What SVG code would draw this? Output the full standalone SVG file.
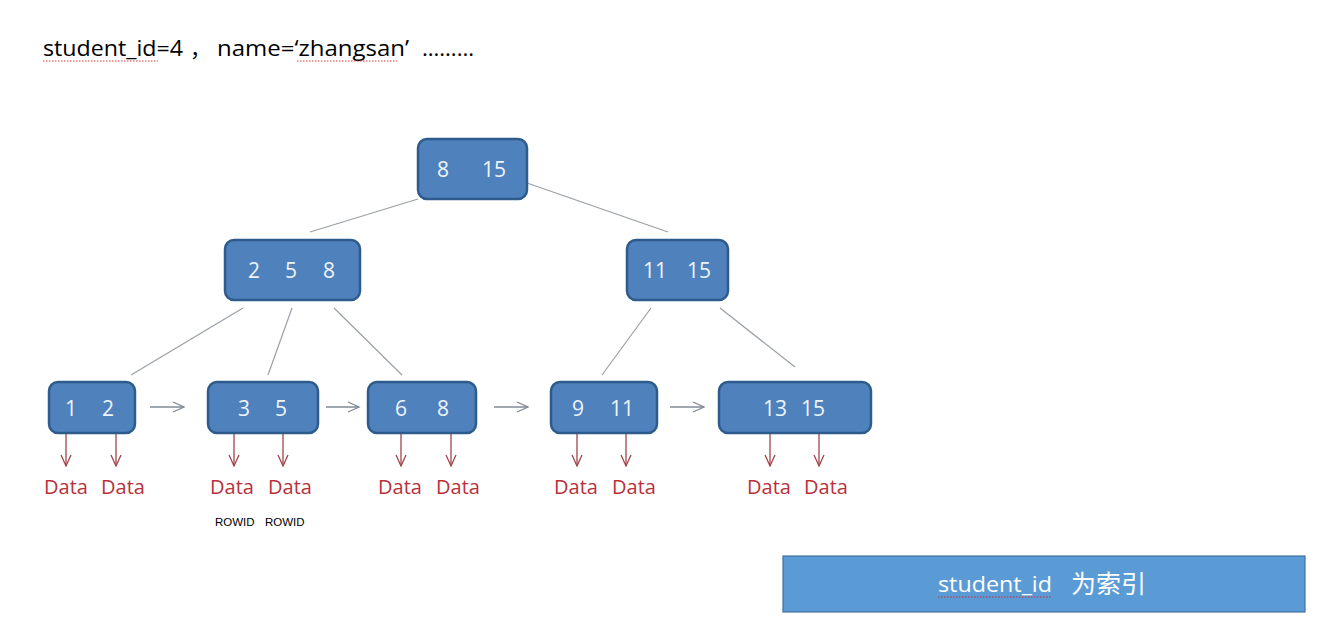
<svg xmlns="http://www.w3.org/2000/svg" width="1336" height="633" viewBox="0 0 1336 633">
<style>
.node rect{fill:#4f81bd;stroke:#2d5b8c;stroke-width:2.5}
.num{font-family:"Open Sans","Liberation Sans",sans-serif;font-size:21px;fill:#eef4fb;text-anchor:middle}
.tree{stroke:#9aa0a6;stroke-width:1.2;fill:none}
.next{stroke:#7f8a96;stroke-width:1.3;fill:none;marker-end:url(#open)}
.ptr{stroke:#a0454a;stroke-width:1.3;fill:none;marker-end:url(#openr)}
.data{font-family:"Open Sans","Liberation Sans",sans-serif;font-size:20px;fill:#b8303a}
.top{font-family:"Open Sans","Liberation Sans","Noto Sans CJK SC",sans-serif;font-size:21px;fill:#000}
.squig{stroke:#e02020;stroke-width:0.9;fill:none;stroke-dasharray:1.5 1.5}
</style>
<defs>
<marker id="open" markerWidth="14" markerHeight="12" refX="12" refY="6" orient="auto" markerUnits="userSpaceOnUse"><path d="M1,1 L12,6 L1,11" fill="none" stroke="#7f8a96" stroke-width="1.3"/></marker>
<marker id="openr" markerWidth="14" markerHeight="12" refX="12" refY="6" orient="auto" markerUnits="userSpaceOnUse"><path d="M1,1 L12,6 L1,11" fill="none" stroke="#a0454a" stroke-width="1.3"/></marker>
</defs>
<rect width="1336" height="633" fill="#ffffff"/>
<g id="header">
<text class="top" x="43" y="56" textLength="140" lengthAdjust="spacingAndGlyphs">student_id=4</text>
<text class="top" x="190" y="56">，</text>
<text class="top" x="217" y="56" textLength="192" lengthAdjust="spacingAndGlyphs">name=‘zhangsan’</text>
<text class="top" x="422" y="56" textLength="52" lengthAdjust="spacingAndGlyphs">………</text>
<path class="squig" d="M43,61 L158,61"/>
<path class="squig" d="M297,61 L397,61"/>
</g>
<g id="connectors">
<path class="tree" d="M418,199 L310,232"/>
<path class="tree" d="M527,183 L668,232"/>
<path class="tree" d="M243,308 L131,375"/>
<path class="tree" d="M292,308 L268,375"/>
<path class="tree" d="M334,308 L402,375"/>
<path class="tree" d="M651,308 L602,375"/>
<path class="tree" d="M720,308 L795,367"/>
<path class="next" d="M150,407 L184,407"/>
<path class="next" d="M326,407 L359,407"/>
<path class="next" d="M494,407 L528,407"/>
<path class="next" d="M670,407 L704,407"/>
<path class="ptr" d="M66,425 L66,466"/>
<path class="ptr" d="M116,425 L116,466"/>
<path class="ptr" d="M234,425 L234,466"/>
<path class="ptr" d="M283,425 L283,466"/>
<path class="ptr" d="M401,425 L401,466"/>
<path class="ptr" d="M451,425 L451,466"/>
<path class="ptr" d="M577,425 L577,466"/>
<path class="ptr" d="M626,425 L626,466"/>
<path class="ptr" d="M770,425 L770,466"/>
<path class="ptr" d="M819,425 L819,466"/>
</g>
<g id="root" class="node"><rect x="418" y="139" width="109" height="60" rx="9"/><text class="num" x="443" y="177">8</text><text class="num" x="494" y="177">15</text></g>
<g id="n258" class="node"><rect x="225" y="240" width="135" height="60" rx="9"/><text class="num" x="254" y="278">2</text><text class="num" x="291" y="278">5</text><text class="num" x="329" y="278">8</text></g>
<g id="n1115" class="node"><rect x="627" y="240" width="101" height="60" rx="9"/><text class="num" x="655" y="278">11</text><text class="num" x="699" y="278">15</text></g>
<g id="leaf12" class="node"><rect x="49" y="382" width="86" height="51" rx="9"/><text class="num" x="71" y="416">1</text><text class="num" x="108" y="416">2</text></g>
<g id="leaf35" class="node"><rect x="208" y="382" width="110" height="51" rx="9"/><text class="num" x="244" y="416">3</text><text class="num" x="281" y="416">5</text></g>
<g id="leaf68" class="node"><rect x="368" y="382" width="108" height="51" rx="9"/><text class="num" x="401" y="416">6</text><text class="num" x="443" y="416">8</text></g>
<g id="leaf911" class="node"><rect x="551" y="382" width="106" height="51" rx="9"/><text class="num" x="578" y="416">9</text><text class="num" x="622" y="416">11</text></g>
<g id="leaf1315" class="node"><rect x="719" y="382" width="152" height="51" rx="9"/><text class="num" x="775" y="416">13</text><text class="num" x="813" y="416">15</text></g>
<g id="datas">
<text class="data" x="44" y="494">Data</text><text class="data" x="101" y="494">Data</text>
<text class="data" x="210" y="494">Data</text><text class="data" x="268" y="494">Data</text>
<text class="data" x="378" y="494">Data</text><text class="data" x="436" y="494">Data</text>
<text class="data" x="554" y="494">Data</text><text class="data" x="612" y="494">Data</text>
<text class="data" x="747" y="494">Data</text><text class="data" x="804" y="494">Data</text>
</g>
<g id="rowid" font-family="'Liberation Sans',Arial,sans-serif" font-size="11.5" fill="#000">
<text x="215" y="526">ROWID</text><text x="265" y="526">ROWID</text>
</g>
<g id="index">
<rect x="783" y="556" width="522" height="56" fill="#5b9bd5" stroke="#41719c" stroke-width="1.2"/>
<text x="938" y="592" font-family="'Open Sans','Liberation Sans',sans-serif" font-size="22" fill="#ffffff" textLength="114" lengthAdjust="spacingAndGlyphs">student_id</text>
<text x="1071" y="593" font-family="'Noto Sans CJK SC',sans-serif" font-size="25" fill="#ffffff">为索引</text>
<path class="squig" d="M938,597 L1052,597"/>
</g>
</svg>
